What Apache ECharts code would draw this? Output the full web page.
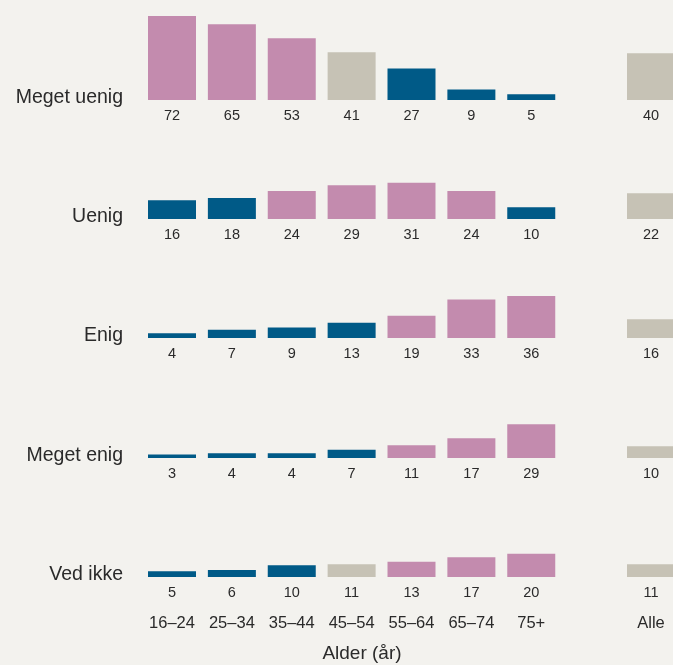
<!DOCTYPE html>
<html>
<head>
<meta charset="utf-8">
<script src="https://cdn.jsdelivr.net/npm/echarts@6/dist/echarts.min.js"></script>
<style>
  html, body { margin: 0; padding: 0; background: #f3f2ee; }
  #main { width: 673px; height: 665px; }
</style>
</head>
<body>
<div id="main"></div>
<script>
// age groups, a blank gap, then the total column
var ages = ['16–24', '25–34', '35–44', '45–54', '55–64', '65–74', '75+', '', 'Alle'];
var answers = ['Meget uenig', 'Uenig', 'Enig', 'Meget enig', 'Ved ikke'];

// percent per answer, one array per row (gap slot is null)
var megetUenig = [72, 65, 53, 41, 27, 9, 5, null, 40];
var uenig      = [16, 18, 24, 29, 31, 24, 10, null, 22];
var enig       = [4, 7, 9, 13, 19, 33, 36, null, 16];
var megetEnig  = [3, 4, 4, 7, 11, 17, 29, null, 10];
var vedIkke    = [5, 6, 10, 11, 13, 17, 20, null, 11];

// h = significantly higher than average, l = lower, n = not significant
var sigMegetUenig = ['h', 'h', 'h', 'n', 'l', 'l', 'l', '', 'n'];
var sigUenig      = ['l', 'l', 'h', 'h', 'h', 'h', 'l', '', 'n'];
var sigEnig       = ['l', 'l', 'l', 'l', 'h', 'h', 'h', '', 'n'];
var sigMegetEnig  = ['l', 'l', 'l', 'l', 'h', 'h', 'h', '', 'n'];
var sigVedIkke    = ['l', 'l', 'l', 'n', 'h', 'h', 'h', '', 'n'];

var rows = [megetUenig, uenig, enig, megetEnig, vedIkke];
var sigs = [sigMegetUenig, sigUenig, sigEnig, sigMegetEnig, sigVedIkke];

var colors = { h: '#c38bae', l: '#005a87', n: '#c6c2b5' };
var textColor = '#2a2a2a';
var font = 'Liberation Sans, Arial, Helvetica, sans-serif';

var baselines = [100, 219, 338, 458, 577];
var gridH = 84;      // px for 72 units
// ticks sit on the edges (boundaryGap false): first column centre to "Alle" centre
var gridLeft = 172;
var gridW = 479;

var grids = [], xAxes = [], yAxes = [], series = [], texts = [];
for (var i = 0; i < rows.length; i++) {
  grids.push({ left: gridLeft, width: gridW, top: baselines[i] - gridH, height: gridH });
  var last = (i == rows.length - 1);
  xAxes.push({
    type: 'category', gridIndex: i, data: ages, boundaryGap: false,
    axisLine: { show: false }, axisTick: { show: false }, splitLine: { show: false },
    axisLabel: { show: last, margin: 38, color: textColor, fontSize: 16.5, fontFamily: font }
  });
  yAxes.push({ type: 'value', gridIndex: i, min: 0, max: 72, show: false });
  var d = [];
  for (var j = 0; j < rows[i].length; j++) {
    if (rows[i][j] == null) { d.push(null); continue; }
    d.push({ value: rows[i][j], itemStyle: { color: colors[sigs[i][j]] } });
  }
  series.push({
    type: 'bar', xAxisIndex: i, yAxisIndex: i, data: d, barWidth: 48, clip: false,
    silent: true, animation: false,
    label: { show: true, position: 'bottom', distance: 8, color: textColor, fontSize: 14.5, fontFamily: font }
  });
  texts.push({
    type: 'text', x: 123, y: baselines[i] - 2,
    style: { text: answers[i], fill: textColor, font: '19.5px ' + font, textAlign: 'right', textVerticalAlign: 'middle' }
  });
}
texts.push({
  type: 'text', x: 362, y: 654,
  style: { text: 'Alder (år)', fill: textColor, font: '19px ' + font, textAlign: 'center', textVerticalAlign: 'middle' }
});

var option = {
  backgroundColor: '#f3f2ee',
  grid: grids, xAxis: xAxes, yAxis: yAxes, series: series, graphic: texts
};
var myChart = echarts.init(document.getElementById('main'));
myChart.setOption(option);
</script>
</body>
</html>
